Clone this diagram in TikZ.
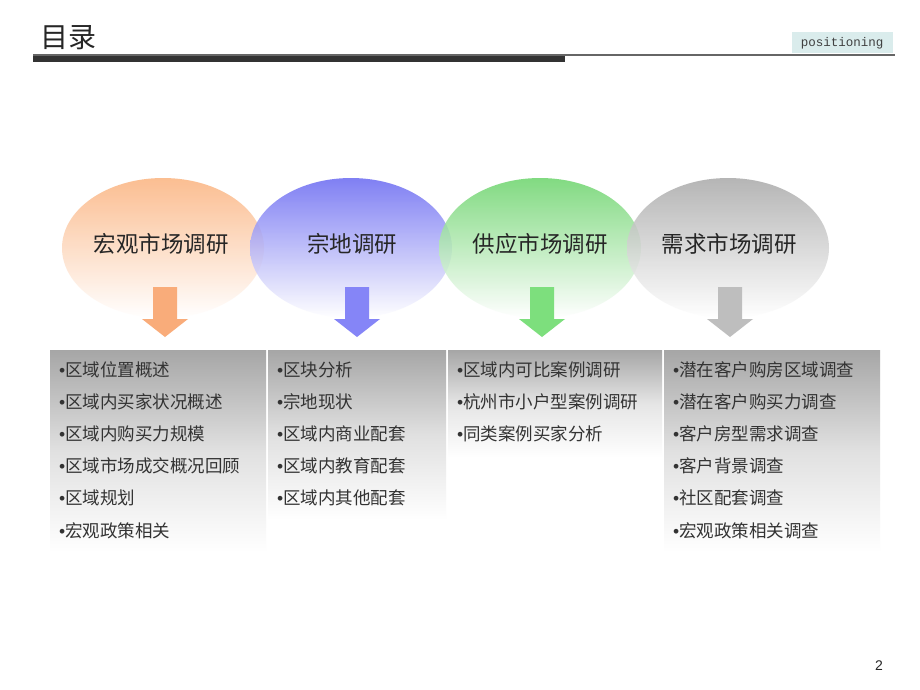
\documentclass[tikz,border=0pt]{standalone}
\usepackage{fontspec}
\setmainfont{Liberation Sans}
\newfontfamily\cjk{Noto Sans CJK SC}
\newfontfamily\monof{Liberation Mono}
\usetikzlibrary{shapes.geometric}
\definecolor{orangeE}{HTML}{FBB37F}
\definecolor{blueE}{HTML}{6A6AF2}
\definecolor{greenE}{HTML}{6CD46C}
\definecolor{grayE}{HTML}{A9A9A9}
\definecolor{orangeA}{HTML}{F9AC7A}
\definecolor{blueA}{HTML}{8585F7}
\definecolor{greenA}{HTML}{7DDF7D}
\definecolor{grayA}{HTML}{BEBEBE}
\definecolor{boxtop}{HTML}{A6A6A6}
\definecolor{tagfill}{HTML}{DAECEC}
\tikzset{
  oval/.style={ellipse, inner sep=0pt, minimum width=202pt, minimum height=140pt,
    fill opacity=0.85},
  ovaltext/.style={inner sep=0pt, font=\cjk\fontsize{22.5}{25}\selectfont, text=black!85},
  listbox/.style={inner sep=0pt, anchor=north west},
  item/.style={anchor=west, inner sep=0pt, font=\cjk\fontsize{17.5}{20}\selectfont, text=black!80},
}
\newcommand{\bul}{{\fontspec{Liberation Sans}•}}
\newcommand{\downarrowshape}[3]{% center x, color, name
  \path[fill=#2] (#1-12,287) -- (#1+12,287) -- (#1+12,319) -- (#1+23,319) -- (#1,337) -- (#1-23,319) -- (#1-12,319) -- cycle;
  \coordinate (#3) at (#1,337);
}
\begin{document}
\begin{tikzpicture}[x=1pt,y=-1pt]
\useasboundingbox (0,0) rectangle (920,690);
\fill[white] (0,0) rectangle (920,690);
% header
\node[anchor=west, inner sep=0pt, font=\cjk\fontsize{28}{30}\selectfont, text=black!85] (title) at (40,38) {目录};
\node[anchor=center, inner sep=0pt, minimum width=101pt, minimum height=21pt, fill=tagfill, font=\monof\fontsize{12.5}{14}\selectfont, text=black!75] (tag) at (842,43) {positioning};
\coordinate (l1) at (33,55);
\coordinate (l2) at (895,55);
\draw[line width=1.2pt, black!60] (l1) -- (l2);
\fill[black!80] (33,56) rectangle (565,62);
% boxes
\shade[top color=boxtop, bottom color=white, middle color=black!12] (50,350) rectangle (266,552);
\shade[top color=boxtop, bottom color=white, middle color=black!12] (268,350) rectangle (446,520);
\shade[top color=boxtop, bottom color=white, middle color=black!10] (448,350) rectangle (662,458);
\shade[top color=boxtop, bottom color=white, middle color=black!12] (664,350) rectangle (880,552);
\node[listbox] (b1) at (50,350) {};
\node[listbox] (b2) at (268,350) {};
\node[listbox] (b3) at (448,350) {};
\node[listbox] (b4) at (664,350) {};
% ellipses
\node[oval, top color=orangeE, bottom color=white] (e1) at (163,248) {};
\node[oval, top color=blueE, bottom color=white] (e2) at (351,248) {};
\node[oval, top color=greenE, bottom color=white] (e3) at (540,248) {};
\node[oval, top color=grayE, bottom color=white] (e4) at (728,248) {};
\node[ovaltext] (e1t) at (161,244) {宏观市场调研};
\node[ovaltext] (e2t) at (352,244) {宗地调研};
\node[ovaltext] (e3t) at (540,244) {供应市场调研};
\node[ovaltext] (e4t) at (729,244) {需求市场调研};
% arrows
\downarrowshape{165}{orangeA}{a1}
\downarrowshape{357}{blueA}{a2}
\downarrowshape{542}{greenA}{a3}
\downarrowshape{730}{grayA}{a4}
% list 1
\node[item] (t11) at (59,370) {\bul 区域位置概述};
\node[item] (t12) at (59,402) {\bul 区域内买家状况概述};
\node[item] (t13) at (59,434) {\bul 区域内购买力规模};
\node[item] (t14) at (59,466) {\bul 区域市场成交概况回顾};
\node[item] (t15) at (59,498) {\bul 区域规划};
\node[item] (t16) at (59,531) {\bul 宏观政策相关};
% list 2
\node[item] (t21) at (277,370) {\bul 区块分析};
\node[item] (t22) at (277,402) {\bul 宗地现状};
\node[item] (t23) at (277,434) {\bul 区域内商业配套};
\node[item] (t24) at (277,466) {\bul 区域内教育配套};
\node[item] (t25) at (277,498) {\bul 区域内其他配套};
% list 3
\node[item] (t31) at (457,370) {\bul 区域内可比案例调研};
\node[item] (t32) at (457,402) {\bul 杭州市小户型案例调研};
\node[item] (t33) at (457,434) {\bul 同类案例买家分析};
% list 4
\node[item] (t41) at (673,370) {\bul 潜在客户购房区域调查};
\node[item] (t42) at (673,402) {\bul 潜在客户购买力调查};
\node[item] (t43) at (673,434) {\bul 客户房型需求调查};
\node[item] (t44) at (673,466) {\bul 客户背景调查};
\node[item] (t45) at (673,498) {\bul 社区配套调查};
\node[item] (t46) at (673,531) {\bul 宏观政策相关调查};
% page number
\node[inner sep=0pt, font=\fontsize{14}{16}\selectfont, text=black!85] (pg) at (879,666) {2};
\end{tikzpicture}
\end{document}
